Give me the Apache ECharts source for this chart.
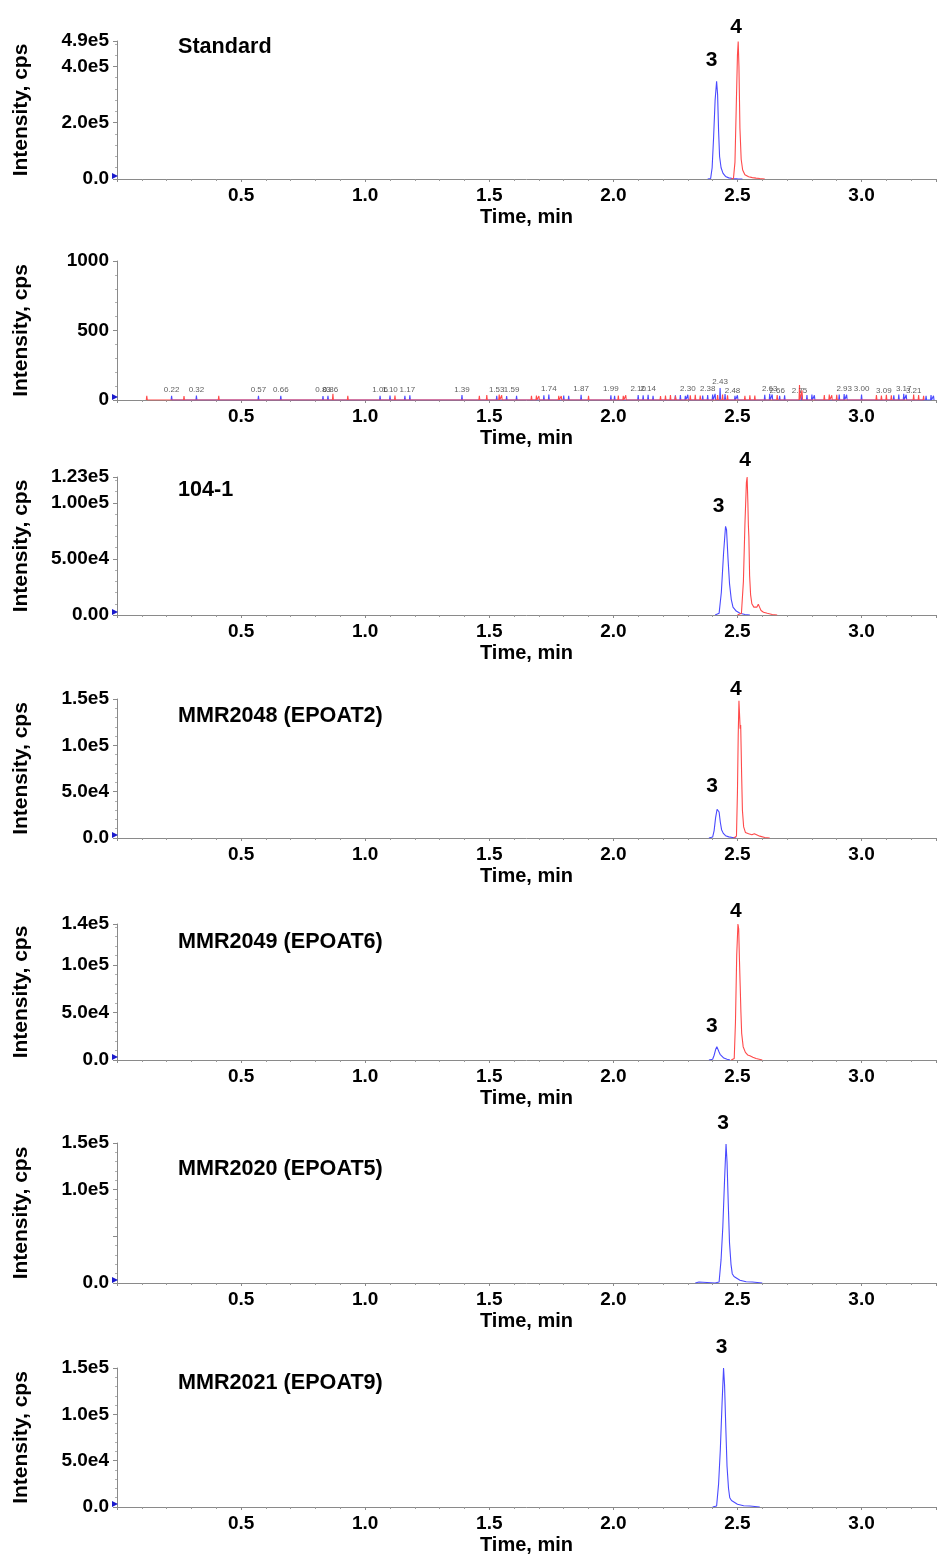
<!DOCTYPE html>
<html>
<head>
<meta charset="utf-8">
<script src="https://cdn.jsdelivr.net/npm/echarts@6/dist/echarts.min.js"></script>
<style>html,body{margin:0;padding:0;background:#fff}#c{width:940px;height:1557px}</style>
</head>
<body>
<div id="c"></div>
<script>
// ---------- DATA ----------
const xMin = 0, xMax = 3.3, xInterval = 0.5;
const panelTitles = ["Standard", "", "104-1", "MMR2048 (EPOAT2)", "MMR2049 (EPOAT6)", "MMR2020 (EPOAT5)", "MMR2021 (EPOAT9)"];
const yMaxes = [490000, 1000, 123000, 150000, 143000, 150000, 150000];
const yIntervals = [200000, 500, 50000, 50000, 50000, 50000, 50000];
const yDecimals = [1, 0, 2, 1, 1, 1, 1];

// Panel 1: Standard
const stdBlue = [[2.380,0],[2.392,2000],[2.398,40000],[2.404,150000],[2.410,280000],[2.416,347000],[2.420,300000],[2.424,170000],[2.428,80000],[2.434,40000],[2.442,20000],[2.452,9000],[2.465,4000],[2.480,1500],[2.500,500],[2.520,0]];
const stdRed = [[2.475,0],[2.484,3000],[2.490,60000],[2.495,250000],[2.500,440000],[2.503,488000],[2.506,400000],[2.510,180000],[2.515,70000],[2.521,32000],[2.530,15000],[2.545,8000],[2.560,5000],[2.575,3000],[2.590,1500],[2.610,0]];

// Panel 2: blank / noise spikes
const noiseBlueT = [0.22,0.32,0.57,0.66,0.83,0.85,1.06,1.10,1.16,1.18,1.39,1.53,1.57,1.61,1.72,1.74,1.80,1.82,1.87,1.99,2.005,2.10,2.12,2.14,2.16,2.25,2.27,2.29,2.30,2.36,2.38,2.40,2.41,2.43,2.45,2.49,2.50,2.61,2.63,2.64,2.67,2.69,2.76,2.78,2.80,2.81,2.91,2.93,2.94,3.00,3.13,3.15,3.17,3.18,3.26,3.28,3.29];
const noiseBlueH = [30,32,30,30,28,30,30,32,30,34,36,30,28,30,34,40,32,30,38,34,30,36,34,38,30,34,36,30,38,32,36,40,44,86,42,30,34,38,44,40,30,34,38,36,40,34,40,42,38,40,34,40,44,38,30,36,30];
const noiseRedT = [0.12,0.27,0.41,0.87,0.93,1.12,1.46,1.49,1.54,1.55,1.67,1.69,1.70,1.78,1.79,1.90,2.02,2.04,2.05,2.19,2.21,2.23,2.25,2.31,2.33,2.35,2.42,2.44,2.46,2.53,2.55,2.57,2.66,2.75,2.76,2.85,2.87,2.88,2.90,3.06,3.08,3.10,3.12,3.21,3.23,3.25];
const noiseRedH = [30,28,30,44,30,32,30,36,40,34,30,32,28,30,28,30,32,30,34,28,32,36,30,34,38,32,36,40,34,30,34,32,36,108,70,36,40,34,38,36,32,38,34,40,36,30];
const noiseLabelT = [0.22,0.32,0.57,0.66,0.83,0.86,1.06,1.10,1.17,1.39,1.53,1.59,1.74,1.87,1.99,2.10,2.14,2.30,2.38,2.43,2.48,2.63,2.66,2.75,2.93,3.00,3.09,3.17,3.21];
const noiseLabelH = [32,32,32,32,32,32,32,32,32,32,32,32,40,40,40,40,40,40,40,86,20,40,20,20,40,40,20,40,20];

// Panel 3: 104-1
const s104Blue = [[2.410,0],[2.426,1500],[2.435,20000],[2.444,55000],[2.452,79000],[2.456,76000],[2.462,50000],[2.468,28000],[2.475,14000],[2.482,7000],[2.495,3500],[2.510,1500],[2.530,500],[2.550,0]];
const s104Red = [[2.500,0],[2.516,1500],[2.524,30000],[2.530,80000],[2.536,118000],[2.539,123000],[2.542,100000],[2.544,80000],[2.546,70000],[2.549,35000],[2.553,18000],[2.558,10000],[2.566,7000],[2.573,5500],[2.578,7000],[2.584,9500],[2.589,7000],[2.595,4000],[2.605,2500],[2.620,1500],[2.640,500],[2.660,0]];

// Panel 4: MMR2048 (EPOAT2)
const s2048Blue = [[2.385,0],[2.400,1000],[2.406,8000],[2.412,22000],[2.418,31000],[2.422,33000],[2.426,28000],[2.431,17000],[2.436,9000],[2.443,5000],[2.452,2500],[2.465,1200],[2.480,600],[2.495,0]];
const s2048Red = [[2.485,0],[2.496,2000],[2.500,50000],[2.503,110000],[2.506,148000],[2.509,130000],[2.511,118000],[2.513,122000],[2.515,95000],[2.517,66000],[2.520,30000],[2.525,12000],[2.532,6000],[2.545,4500],[2.558,3500],[2.568,4500],[2.575,4000],[2.590,2000],[2.610,500],[2.630,0]];

// Panel 5: MMR2049 (EPOAT6)
const s2049Blue = [[2.385,0],[2.400,800],[2.406,5000],[2.412,11000],[2.417,14000],[2.421,12500],[2.425,9000],[2.430,6000],[2.436,4000],[2.445,2000],[2.458,800],[2.470,0]];
const s2049Red = [[2.475,0],[2.487,1500],[2.492,40000],[2.497,110000],[2.502,143000],[2.505,138000],[2.508,106000],[2.511,78000],[2.514,50000],[2.517,28000],[2.523,14000],[2.532,8000],[2.541,5300],[2.550,4500],[2.556,5000],[2.562,3000],[2.575,1500],[2.600,0]];

// Panel 6: MMR2020 (EPOAT5)
const s2020Blue = [[2.330,0],[2.345,1000],[2.350,0],[2.410,0],[2.426,1000],[2.434,25000],[2.441,60000],[2.448,110000],[2.454,149000],[2.458,130000],[2.463,85000],[2.468,43000],[2.474,20000],[2.479,10000],[2.486,7000],[2.494,5000],[2.510,3000],[2.535,1400],[2.560,1000],[2.580,500],[2.600,0]];

// Panel 7: MMR2021 (EPOAT9)
const s2021Blue = [[2.400,0],[2.416,1000],[2.424,25000],[2.431,62000],[2.438,112000],[2.444,150000],[2.448,132000],[2.453,86000],[2.458,44000],[2.464,20000],[2.469,10000],[2.476,7000],[2.484,5000],[2.500,3000],[2.525,1400],[2.550,1000],[2.570,500],[2.590,0]];

// ---------- LAYOUT ----------
const gridTops = [41, 261, 477, 699, 924, 1143, 1368];
const gridHeights = [138, 139, 138, 139, 136, 140, 139];
const titleTops = [36, 0, 479, 705, 931, 1158, 1372];
const BLUE = '#4a4aff', RED = '#ff4a4a';
const FONT = 'Arial, "Liberation Sans", sans-serif';

function spikes(ts, hs) {
  const pts = [];
  ts.forEach((t, i) => { pts.push([t - 0.002, 0], [t, hs[i]], [t + 0.002, 0]); });
  return pts;
}
function fmt(v, d) {
  if (v === 0) return (0).toFixed(d);
  if (d === 0) return String(Math.round(v));
  const e = Math.floor(Math.log10(v) + 1e-9);
  const m = v / Math.pow(10, e);
  return m.toFixed(d) + 'e' + e;
}
function peakOf(arr) { return arr.reduce((a, b) => (b[1] > a[1] ? b : a)); }

const traces = [
  [{d: stdBlue, c: BLUE, lab: '3', off: [-5, -21]}, {d: stdRed, c: RED, lab: '4', off: [-2, -14]}],
  [{d: spikes(noiseBlueT, noiseBlueH), c: BLUE}, {d: spikes(noiseRedT, noiseRedH), c: RED}],
  [{d: s104Blue, c: BLUE, lab: '3', off: [-7, -20]}, {d: s104Red, c: RED, lab: '4', off: [-2, -17]}],
  [{d: s2048Blue, c: BLUE, lab: '3', off: [-6, -21]}, {d: s2048Red, c: RED, lab: '4', off: [-3, -12]}],
  [{d: s2049Blue, c: BLUE, lab: '3', off: [-5, -20]}, {d: s2049Red, c: RED, lab: '4', off: [-2, -13]}],
  [{d: s2020Blue, c: BLUE, lab: '3', off: [-3, -21]}],
  [{d: s2021Blue, c: BLUE, lab: '3', off: [-2, -21]}]
];

const grid = [], xAxis = [], yAxis = [], series = [], title = [];
for (let i = 0; i < 7; i++) {
  grid.push({left: 117, right: 4, top: gridTops[i], height: gridHeights[i]});
  xAxis.push({
    type: 'value', gridIndex: i, min: xMin, max: xMax, interval: xInterval,
    name: 'Time, min', nameLocation: 'middle', nameGap: 28,
    nameTextStyle: {fontFamily: FONT, fontSize: 20, fontWeight: 'bold', color: '#000'},
    axisLine: {show: true, lineStyle: {color: '#8a8a8a', width: 1}},
    axisTick: {show: true, length: 3, lineStyle: {color: '#8a8a8a'}},
    minorTick: {show: true, splitNumber: 5, length: 2, lineStyle: {color: '#9a9a9a'}},
    splitLine: {show: false},
    axisLabel: {showMinLabel: false, showMaxLabel: false, margin: 7, fontFamily: FONT, fontSize: 19, fontWeight: 'bold', color: '#000',
      formatter: v => v.toFixed(1)}
  });
  const dec = yDecimals[i], pi = i;
  yAxis.push({
    type: 'value', gridIndex: i, min: 0, max: yMaxes[i], interval: yIntervals[i],
    name: 'Intensity, cps', nameLocation: 'middle', nameGap: 85, nameRotate: 90,
    nameTextStyle: {fontFamily: FONT, fontSize: 21, fontWeight: 'bold', color: '#000'},
    axisLine: {show: true, lineStyle: {color: '#8a8a8a', width: 1}},
    axisTick: {show: true, length: 4, lineStyle: {color: '#8a8a8a'}},
    minorTick: {show: true, splitNumber: 5, length: 2, lineStyle: {color: '#b0b0b0'}},
    splitLine: {show: false},
    axisLabel: {margin: 8, fontFamily: FONT, fontSize: 19, fontWeight: 'bold', color: '#000',
      formatter: v => (pi === 5 && v === 50000) ? '' : fmt(v, dec)}
  });
  if (panelTitles[i]) {
    title.push({text: panelTitles[i], left: 178, top: titleTops[i], padding: 0,
      textStyle: {fontFamily: FONT, fontSize: 21.6, fontWeight: 'bold', color: '#000'}});
  }
  traces[i].forEach((tr, k) => {
    const mp = [];
    if (tr.lab) {
      const p = peakOf(tr.d);
      mp.push({coord: p, value: tr.lab, label: {offset: tr.off}});
    }
    const s = {
      type: 'line', xAxisIndex: i, yAxisIndex: i, data: tr.d, showSymbol: false, silent: true,
      lineStyle: {color: tr.c, width: 1.1}, itemStyle: {color: tr.c}, z: 3,
      markPoint: {
        symbol: 'circle', symbolSize: 1, itemStyle: {color: 'rgba(0,0,0,0)'}, silent: true,
        label: {show: true, position: 'inside', fontFamily: FONT, fontSize: 21, fontWeight: 'bold', color: '#000', formatter: '{c}'},
        data: mp
      }
    };
    if (k === 0) {
      s.markPoint.data.push({coord: [xMin, 0], value: '', symbol: 'triangle', symbolRotate: -90, symbolSize: [6, 6],
        symbolOffset: [-2, -3], itemStyle: {color: '#1a1acc'}, label: {show: false}});
    }
    series.push(s);
  });
  if (i === 1) {
    series.push({
      type: 'scatter', xAxisIndex: 1, yAxisIndex: 1, symbolSize: 0, silent: true, z: 4,
      data: noiseLabelT.map((t, j) => [t, noiseLabelH[j]]),
      label: {show: true, position: 'top', distance: 2, fontFamily: FONT, fontSize: 8, color: '#333',
        formatter: p => p.value[0].toFixed(2)}
    });
  }
}

const chart = echarts.init(document.getElementById('c'), null, {renderer: 'canvas'});
chart.setOption({animation: false, backgroundColor: '#fff', title, grid, xAxis, yAxis, series});
</script>
</body>
</html>
